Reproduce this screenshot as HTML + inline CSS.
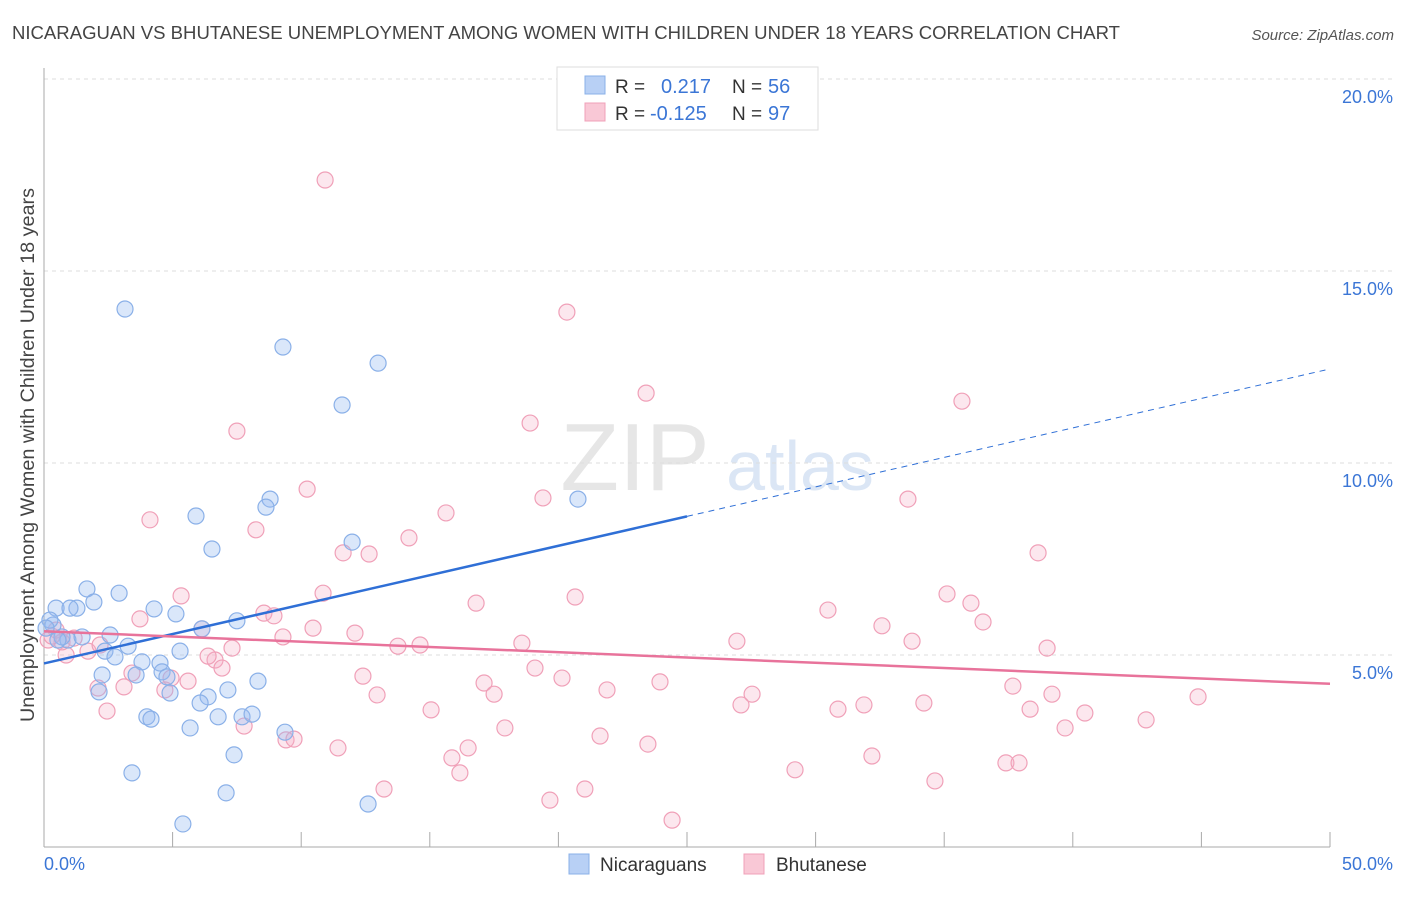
<!DOCTYPE html>
<html><head><meta charset="utf-8"><style>
body{margin:0;background:#fff;font-family:"Liberation Sans",sans-serif;}
svg text{font-family:"Liberation Sans",sans-serif;}
</style></head><body>
<svg id="chart" width="1406" height="892" xmlns="http://www.w3.org/2000/svg">
<text x="12" y="39" font-size="18.5" fill="#444" textLength="1108" lengthAdjust="spacingAndGlyphs">NICARAGUAN VS BHUTANESE UNEMPLOYMENT AMONG WOMEN WITH CHILDREN UNDER 18 YEARS CORRELATION CHART</text>
<text x="1394" y="40" font-size="15" fill="#555" font-style="italic" text-anchor="end">Source: ZipAtlas.com</text>
<text x="635" y="490" font-size="96" fill="#e6e6e6" font-family="Liberation Serif" text-anchor="middle">ZIP</text>
<text x="800" y="490" font-size="70" fill="#dbe6f5" text-anchor="middle">atlas</text>
<g id="grid"></g>
<g id="axes"></g>
<g id="pts"></g>
<g id="trend"></g>
<text transform="translate(34,455) rotate(-90)" font-size="19" fill="#444" text-anchor="middle" textLength="534" lengthAdjust="spacingAndGlyphs">Unemployment Among Women with Children Under 18 years</text>
<g>
<rect x="557" y="67" width="261" height="63" fill="#fff" stroke="#ddd"/>
<rect x="585" y="76" width="20" height="18" fill="#b8d0f5" stroke="#8ab0e8"/>
<rect x="585" y="103" width="20" height="18" fill="#f9c8d6" stroke="#f0a0b8"/>
<text x="615" y="93" font-size="19" fill="#333">R =</text>
<text x="661" y="93" font-size="20" fill="#3b76d6">0.217</text>
<text x="732" y="93" font-size="19" fill="#333">N =</text>
<text x="768" y="93" font-size="20" fill="#3b76d6">56</text>
<text x="615" y="120" font-size="19" fill="#333">R =</text>
<text x="650" y="120" font-size="20" fill="#3b76d6">-0.125</text>
<text x="732" y="120" font-size="19" fill="#333">N =</text>
<text x="768" y="120" font-size="20" fill="#3b76d6">97</text>
</g>
<g>
<rect x="569" y="854" width="20" height="20" fill="#b8d0f5" stroke="#8ab0e8"/>
<text x="600" y="871" font-size="19" fill="#333">Nicaraguans</text>
<rect x="744" y="854" width="20" height="20" fill="#f9c8d6" stroke="#f0a0b8"/>
<text x="776" y="871" font-size="19" fill="#333">Bhutanese</text>
</g>
</svg>
<script>
const yTicks=[5,10,15,20];
const xTickLabels=["0.0%","50.0%"];
const bluePx=[[125,309],[283,347],[378,363],[342,405],[578,499],[270,499],[266,507],[196,516],[212,549],[352,542],[87,589],[119,593],[94,602],[77,608],[56,608],[154,609],[176,614],[237,621],[202,629],[53,625],[110,635],[68,640],[62,637],[82,637],[128,646],[180,651],[105,651],[115,657],[142,662],[160,663],[162,672],[167,677],[102,675],[136,675],[258,681],[170,693],[208,697],[228,690],[99,692],[200,703],[218,717],[147,717],[151,719],[242,717],[252,714],[190,728],[285,732],[234,755],[132,773],[226,793],[368,804],[183,824],[50,620],[46,628],[58,640],[70,608]];
const pinkPx=[[325,180],[567,312],[646,393],[962,401],[237,431],[530,423],[307,489],[543,498],[908,499],[150,520],[446,513],[256,530],[409,538],[343,553],[369,554],[1038,553],[181,596],[323,593],[575,597],[476,603],[947,594],[971,603],[828,610],[264,613],[274,616],[140,619],[983,622],[882,626],[202,629],[313,628],[355,633],[283,637],[737,641],[912,641],[522,643],[398,646],[420,645],[1047,648],[232,648],[66,655],[88,651],[100,645],[215,660],[208,656],[222,668],[132,673],[535,668],[562,678],[363,676],[171,678],[188,681],[484,683],[660,682],[124,687],[98,688],[165,690],[607,690],[377,695],[752,694],[494,694],[1013,686],[1052,694],[1198,697],[924,703],[741,705],[838,709],[864,705],[431,710],[1030,709],[107,711],[1085,713],[1146,720],[505,728],[1065,728],[244,726],[600,736],[286,740],[294,739],[338,748],[468,748],[648,744],[452,758],[872,756],[1006,763],[1019,763],[460,773],[795,770],[935,781],[384,789],[585,789],[550,800],[672,820],[56,630],[62,642],[48,640],[52,636],[74,638]];
const blueX=bluePx.map(p=>+((p[0]-44)/25.72).toFixed(2));
const blueY=bluePx.map(p=>+((847-p[1])/38.4).toFixed(2));
const pinkX=pinkPx.map(p=>+((p[0]-44)/25.72).toFixed(2));
const pinkY=pinkPx.map(p=>+((847-p[1])/38.4).toFixed(2));
const blueTrend=[[0,4.78],[25,8.61],[50,12.45]];
const pinkTrend=[[0,5.62],[50,4.25]];
const NS="http://www.w3.org/2000/svg";
const sx=v=>44+v*25.72, sy=v=>847-v*38.4;
function mk(tag,attrs,parent){const e=document.createElementNS(NS,tag);for(const k in attrs)e.setAttribute(k,attrs[k]);document.getElementById(parent).appendChild(e);return e;}
yTicks.forEach(t=>{
 const l=mk('line',{x1:44,x2:1395,y1:sy(t),y2:sy(t),stroke:'#ddd','stroke-dasharray':'4,4'},'grid');
 
 
 const tx=mk('text',{x:1393,y:sy(t)+24,'font-size':18,fill:'#3b76d6','text-anchor':'end'},'grid');
 tx.textContent=t.toFixed(1)+'%';
 
 
});
let a=mk('line',{x1:44,x2:44,y1:68,y2:847,stroke:'#aaa'},'axes');


a=mk('line',{x1:44,x2:1330,y1:847,y2:847,stroke:'#aaa'},'axes');


for(let i=0;i<=10;i++){const t=mk('line',{x1:sx(i*5),x2:sx(i*5),y1:832,y2:847,stroke:'#aaa'},'axes');
 
 }
let xl=mk('text',{x:44,y:870,'font-size':18,fill:'#3b76d6'},'axes');xl.textContent=xTickLabels[0];


xl=mk('text',{x:1393,y:870,'font-size':18,fill:'#3b76d6','text-anchor':'end'},'axes');xl.textContent=xTickLabels[1];


pinkX.forEach((x,i)=>{const c=mk('circle',{cx:sx(x),cy:sy(pinkY[i]),r:8,fill:'rgba(245,175,200,0.3)',stroke:'#f0a0b8','stroke-width':1.2},'pts');
 
 });
blueX.forEach((x,i)=>{const c=mk('circle',{cx:sx(x),cy:sy(blueY[i]),r:8,fill:'rgba(150,185,240,0.35)',stroke:'#8ab0e8','stroke-width':1.2},'pts');
 
 });
let t=mk('line',{x1:sx(blueTrend[0][0]),y1:sy(blueTrend[0][1]),x2:sx(blueTrend[1][0]),y2:sy(blueTrend[1][1]),stroke:'#2f6fd6','stroke-width':2.5},'trend');


t=mk('line',{x1:sx(blueTrend[1][0]),y1:sy(blueTrend[1][1]),x2:sx(blueTrend[2][0]),y2:sy(blueTrend[2][1]),stroke:'#2f6fd6','stroke-width':1,'stroke-dasharray':'6,5'},'trend');


t=mk('line',{x1:sx(pinkTrend[0][0]),y1:sy(pinkTrend[0][1]),x2:sx(pinkTrend[1][0]),y2:sy(pinkTrend[1][1]),stroke:'#e8739b','stroke-width':2.5},'trend');


</script>
</body></html>
